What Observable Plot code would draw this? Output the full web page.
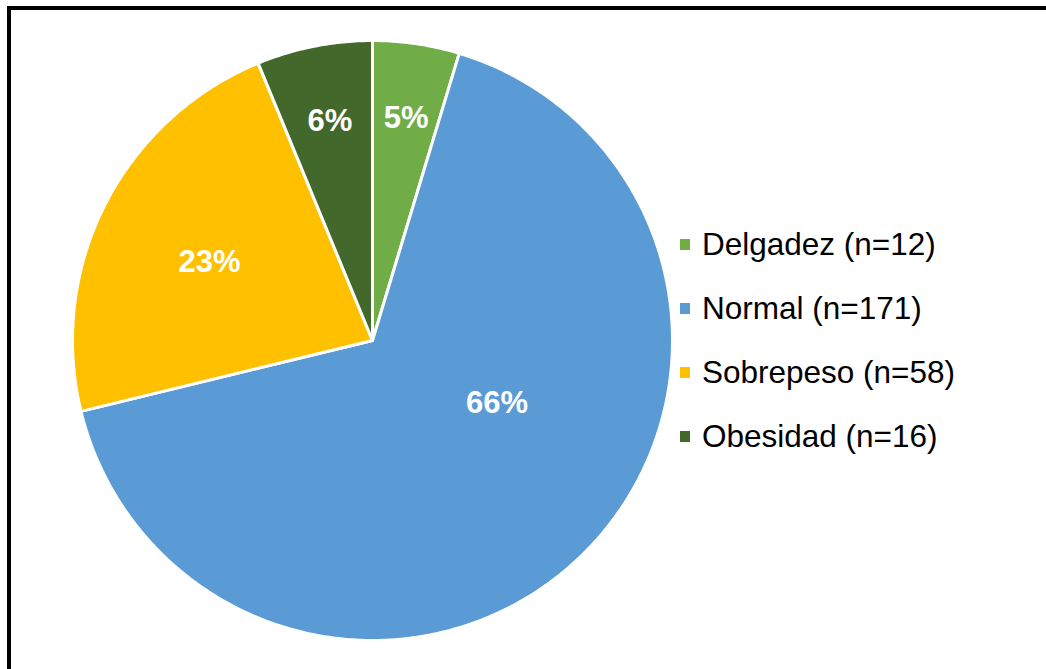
<!DOCTYPE html>
<html>
<head>
<meta charset="utf-8">
<script src="https://cdn.jsdelivr.net/npm/d3@7"></script>
<script src="https://cdn.jsdelivr.net/npm/@observablehq/plot@0.6"></script>
<style>
  html, body { margin: 0; padding: 0; background: #fff; overflow: hidden; }
  #wrap { position: relative; width: 1046px; height: 669px; overflow: hidden; }
  #chart { position: absolute; left: 0; top: 0; }
  #frame { position: absolute; left: 7px; top: 6px; width: 1200px; height: 800px; border: 4px solid #000; box-sizing: border-box; pointer-events: none; }
  #legend { position: absolute; left: 680px; top: 229px; font-family: "Liberation Sans", Arial, sans-serif; font-size: 31.5px; color: #000; }
  .item { display: flex; align-items: center; height: 30px; margin-bottom: 34px; white-space: nowrap; }
  .sw { width: 10px; height: 11px; margin-right: 12px; flex: none; }
</style>
</head>
<body>
<div id="wrap">
  <div id="chart"></div>
  <div id="legend"></div>
  <div id="frame"></div>
</div>
<script>
// ---- data ----
const categories = ["Delgadez", "Normal", "Sobrepeso", "Obesidad"];
const counts = [12, 171, 58, 16];
const pctLabels = ["5%", "66%", "23%", "6%"];
const colors = ["#70AD47", "#5B9BD5", "#FFC000", "#43682B"];

// ---- layout config (not data) ----
const W = 1046, H = 669, CX = 372, CY = 340, R = 300;
// label placement: [angle offset from slice mid (deg), radius fraction]
const labelPlace = {Delgadez: [0.1, 0.757], Normal: [-20.7, 0.461], Sobrepeso: [-0.6, 0.606], Obesidad: [0.3, 0.75]};

const rows = categories.map((c, i) => ({cat: c, n: counts[i], label: pctLabels[i]}));
const arcs = d3.pie().sort(null).value(d => d.n)(rows);

// build slice polygons (unit radius, y up)
const poly = [];
for (const a of arcs) {
  const steps = Math.max(4, Math.ceil((a.endAngle - a.startAngle) / 0.01));
  poly.push({cat: a.data.cat, x: 0, y: 0});
  for (let k = 0; k <= steps; k++) {
    const t = a.startAngle + (a.endAngle - a.startAngle) * k / steps;
    poly.push({cat: a.data.cat, x: Math.sin(t), y: Math.cos(t)});
  }
  poly.push({cat: a.data.cat, x: 0, y: 0});
}

const labels = arcs.map(a => {
  const [off, rf] = labelPlace[a.data.cat];
  const t = (a.startAngle + a.endAngle) / 2 + off * Math.PI / 180;
  return {cat: a.data.cat, label: a.data.label, x: rf * Math.sin(t), y: rf * Math.cos(t)};
});

const plot = Plot.plot({
  width: W, height: H,
  margin: 0,
  x: {domain: [-CX / R, (W - CX) / R], axis: null},
  y: {domain: [-(H - CY) / R, CY / R], axis: null},
  color: {domain: categories, range: colors},
  style: {background: "transparent"},
  marks: [
    Plot.line(poly, {x: "x", y: "y", z: "cat", fill: "cat", stroke: "white", strokeWidth: 3, strokeLinejoin: "round", curve: "linear"}),
    Plot.text(labels, {x: "x", y: "y", text: "label", dy: 2, fill: "white", fontSize: 31, fontWeight: "bold", fontFamily: "Liberation Sans, Arial, sans-serif"})
  ]
});
document.getElementById("chart").appendChild(plot);

const leg = document.getElementById("legend");
categories.forEach((c, i) => {
  const item = document.createElement("div");
  item.className = "item";
  const sw = document.createElement("span");
  sw.className = "sw";
  sw.style.background = colors[i];
  const tx = document.createElement("span");
  tx.textContent = `${c} (n=${counts[i]})`;
  item.appendChild(sw);
  item.appendChild(tx);
  leg.appendChild(item);
});
</script>
</body>
</html>
